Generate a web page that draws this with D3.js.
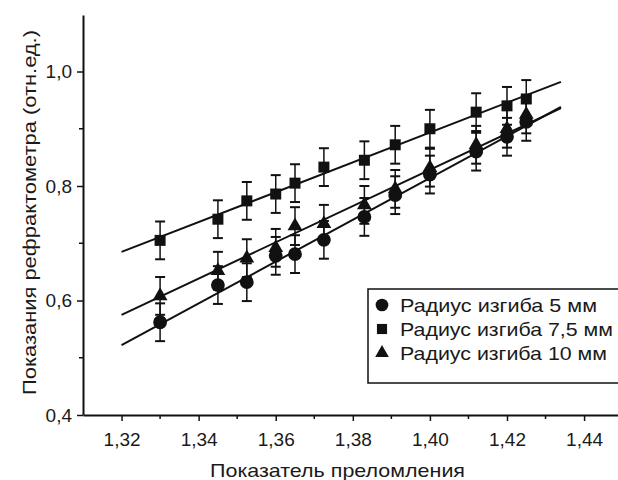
<!DOCTYPE html>
<html>
<head>
<meta charset="utf-8">
<script src="https://cdn.jsdelivr.net/npm/d3@7"></script>
<style>
  body { margin: 0; background: #fff; }
  svg text { font-family: "Liberation Sans", Arial, sans-serif; fill: #1a1a1a; }
</style>
</head>
<body>
<svg id="chart" width="618" height="480"></svg>
<script>
// refractive index values where readings were taken
const xValues = [1.33, 1.345, 1.3525, 1.36, 1.365, 1.3725, 1.383, 1.391, 1.4, 1.412, 1.42, 1.425];

// readings per bend radius
const r5 = [0.562, 0.627, 0.632, 0.678, 0.681, 0.706, 0.746, 0.784, 0.82, 0.86, 0.886, 0.912];
const r75 = [0.705, 0.742, 0.774, 0.786, 0.805, 0.833, 0.845, 0.872, 0.90, 0.929, 0.94, 0.952];
const r10 = [0.608, 0.652, 0.674, 0.692, 0.73, 0.734, 0.767, 0.795, 0.832, 0.872, 0.90, 0.925];
const errValue = 0.033;

// linear fit endpoints [x, y]
const fit5 = [[1.32, 0.522], [1.434, 0.938]];
const fit75 = [[1.32, 0.685], [1.434, 0.982]];
const fit10 = [[1.32, 0.575], [1.434, 0.936]];

const xTicks = [1.32, 1.34, 1.36, 1.38, 1.40, 1.42, 1.44];
const xMinor = [1.33, 1.35, 1.37, 1.39, 1.41, 1.43, 1.45];
const yTicks = [0.4, 0.6, 0.8, 1.0];
const yMinor = [0.5, 0.7, 0.9];

const series = [
  { name: "Радиус изгиба 5 мм", values: r5, fit: fit5, symbol: d3.symbolCircle, size: 150 },
  { name: "Радиус изгиба 7,5 мм", values: r75, fit: fit75, symbol: d3.symbolSquare, size: 121 },
  { name: "Радиус изгиба 10 мм", values: r10, fit: fit10, symbol: d3.symbolTriangle, size: 95 }
];
const legendWidths = [197, 213, 207];

const svg = d3.select("#chart");
const mLeft = 83, mTop = 15, mBottom = 415, mRight = 618;

const x = d3.scaleLinear().domain([1.31, 1.4488]).range([mLeft, mRight]);
const y = d3.scaleLinear().domain([0.4, 1.0987]).range([mBottom, mTop]);

const fmt = d => d3.format(".2f")(d).replace(".", ",");
const fmtY = d => d3.format(".1f")(d).replace(".", ",");

// x axis
const xAxis = svg.append("g").attr("transform", `translate(0,${mBottom})`)
  .call(d3.axisBottom(x).tickValues(xTicks).tickFormat(fmt).tickSize(6).tickSizeOuter(0));
xAxis.append("g").selectAll("line").data(xMinor).join("line")
  .attr("x1", d => x(d)).attr("x2", d => x(d)).attr("y1", 0).attr("y2", 4)
  .attr("stroke", "#111").attr("stroke-width", 1.5);
xAxis.select(".domain").attr("stroke", "#111").attr("stroke-width", 2);
xAxis.selectAll(".tick line").attr("stroke", "#111").attr("stroke-width", 1.5);
xAxis.selectAll(".tick text").attr("font-size", 19).attr("y", 31).attr("dy", 0)
  .attr("fill", "#1a1a1a");

// y axis
const yAxis = svg.append("g").attr("transform", `translate(${mLeft},0)`)
  .call(d3.axisLeft(y).tickValues(yTicks).tickFormat(fmtY).tickSize(6).tickSizeOuter(0));
yAxis.append("g").selectAll("line").data(yMinor).join("line")
  .attr("y1", d => y(d)).attr("y2", d => y(d)).attr("x1", 0).attr("x2", -4)
  .attr("stroke", "#111").attr("stroke-width", 1.5);
yAxis.select(".domain").attr("stroke", "#111").attr("stroke-width", 2);
yAxis.selectAll(".tick line").attr("stroke", "#111").attr("stroke-width", 1.5);
yAxis.selectAll(".tick text").attr("font-size", 19).attr("x", -11).attr("fill", "#1a1a1a");

// axis titles
svg.append("text").attr("x", 210).attr("y", 477)
  .attr("font-size", 19).attr("textLength", 255).attr("lengthAdjust", "spacingAndGlyphs")
  .text("Показатель преломления");
svg.append("text").attr("transform", "translate(36,395) rotate(-90)")
  .attr("font-size", 19).attr("textLength", 365).attr("lengthAdjust", "spacingAndGlyphs")
  .text("Показания рефрактометра (отн.ед.)");

// fit lines
const line = d3.line().x(d => x(d[0])).y(d => y(d[1]));
series.forEach(s => {
  svg.append("path").datum(s.fit).attr("d", line)
    .attr("fill", "none").attr("stroke", "#111").attr("stroke-width", 2);
});

// error bars and markers
series.forEach(s => {
  const g = svg.append("g");
  const pts = xValues.map((v, i) => ({ x: v, y: s.values[i] }));
  const eb = g.selectAll("g.eb").data(pts).join("g").attr("class", "eb");
  eb.append("line").attr("x1", d => x(d.x)).attr("x2", d => x(d.x))
    .attr("y1", d => y(d.y - errValue)).attr("y2", d => y(d.y + errValue))
    .attr("stroke", "#111").attr("stroke-width", 1.5);
  [-1, 1].forEach(k => {
    eb.append("line").attr("x1", d => x(d.x) - 5).attr("x2", d => x(d.x) + 5)
      .attr("y1", d => y(d.y + k * errValue)).attr("y2", d => y(d.y + k * errValue))
      .attr("stroke", "#111").attr("stroke-width", 2);
  });
  g.selectAll("path").data(pts).join("path")
    .attr("transform", d => `translate(${x(d.x)},${y(d.y)})`)
    .attr("d", d3.symbol().type(s.symbol).size(s.size))
    .attr("fill", "#111");
});

// legend
const lg = svg.append("g").attr("transform", "translate(368,289)");
lg.append("rect").attr("width", 252).attr("height", 94)
  .attr("fill", "#fff").attr("stroke", "#111").attr("stroke-width", 1.5);
series.forEach((s, i) => {
  const row = lg.append("g").attr("transform", `translate(0,${16 + i * 24})`);
  row.append("path").attr("transform", "translate(14,0)")
    .attr("d", d3.symbol().type(s.symbol).size(s.size * 0.85)).attr("fill", "#111");
  row.append("text").attr("x", 32).attr("y", 7).attr("font-size", 19)
    .attr("textLength", legendWidths[i]).attr("lengthAdjust", "spacingAndGlyphs")
    .text(s.name);
});
</script>
</body>
</html>
